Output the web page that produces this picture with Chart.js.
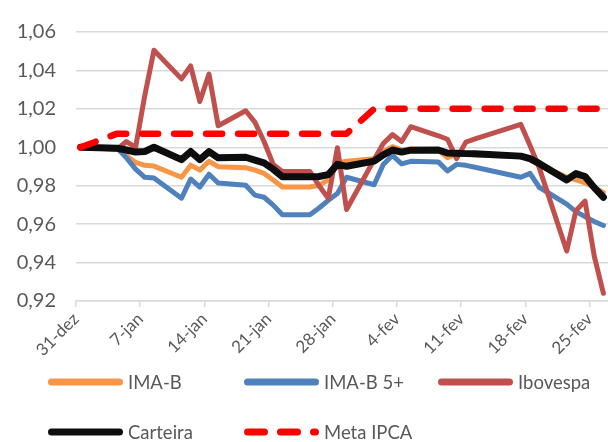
<!DOCTYPE html>
<html>
<head>
<meta charset="utf-8">
<script src="https://cdn.jsdelivr.net/npm/chart.js@4.4.1/dist/chart.umd.min.js"></script>
<style>
body{margin:0;background:#fff;font-family:Lato,"Open Sans",sans-serif;}
#wrap{position:relative;width:608px;height:442px;overflow:hidden;}
#legend{position:absolute;left:0;top:0;width:608px;height:442px;pointer-events:none;}
.item{position:absolute;height:20px;display:flex;align-items:center;font-size:18.5px;color:#595959;white-space:nowrap;}
.item svg{margin-right:5px;}
</style>
</head>
<body>
<div id="wrap">
  <canvas id="chart" width="608" height="442"></canvas>
  <div id="legend"></div>
</div>
<script>
/* DATA (days after 31-dez) */
const days=[0,4,5,6,7,8,11,12,13,14,15,18,19,20,21,22,25,26,27,28,29,32,33,34,35,36,39,40,41,42,43,48,49,50,53,54,55,56,57];

const imaB=[1.000,0.9995,0.9956,0.9921,0.9906,0.9902,0.9844,0.9907,0.9881,0.9927,0.9899,0.9894,0.9881,0.9864,0.9830,0.9793,0.9793,0.9802,0.9830,0.9918,0.9927,0.9941,0.9980,1.0003,0.9986,0.9991,0.9986,0.9946,0.9966,0.9966,0.9960,0.9951,0.9936,0.9906,0.9845,0.9830,0.9815,0.9790,0.9765];

const imaB5=[1.000,0.9995,0.9945,0.9886,0.9844,0.9840,0.9735,0.9835,0.9793,0.9860,0.9814,0.9802,0.9751,0.9740,0.9699,0.9649,0.9649,0.9684,0.9724,0.9760,0.9844,0.9805,0.9910,0.9958,0.9914,0.9927,0.9924,0.9877,0.9911,0.9906,0.9896,0.9844,0.9864,0.9792,0.9704,0.9665,0.9639,0.9614,0.9593];

const ibovespa=[1.000,0.999,1.003,1.000,1.027,1.0505,1.0356,1.0423,1.0238,1.0381,1.0112,1.019,1.0131,1.003,0.9911,0.9874,0.9874,0.9800,0.9734,0.9998,0.9676,0.9935,1.002,1.0066,1.003,1.0107,1.006,1.0042,0.9941,1.0027,1.0044,1.0119,1.0009,0.9894,0.946,0.967,0.972,0.9434,0.924];

const carteira=[1.000,0.9995,0.9986,0.9975,0.9978,1.000,0.9936,0.9978,0.9936,0.9978,0.9945,0.9948,0.9933,0.9919,0.9886,0.9847,0.9847,0.9848,0.9858,0.9911,0.9901,0.9928,0.9961,0.9986,0.9975,0.9985,0.9986,0.9970,0.9969,0.9967,0.9966,0.9954,0.9941,0.9916,0.9830,0.9863,0.9848,0.9790,0.9740];

const metaIpca=[1.000,1.0071,1.0071,1.0071,1.0071,1.0071,1.0071,1.0071,1.0071,1.0071,1.0071,1.0071,1.0071,1.0071,1.0071,1.0071,1.0071,1.0071,1.0071,1.0071,1.0071,1.020,1.020,1.020,1.020,1.020,1.020,1.020,1.020,1.020,1.020,1.020,1.020,1.020,1.020,1.020,1.020,1.020,1.020];

const xTickLabels=["31-dez","7-jan","14-jan","21-jan","28-jan","4-fev","11-fev","18-fev","25-fev"];
const yTicks=[0.92,0.94,0.96,0.98,1.00,1.02,1.04,1.06];

const pts=vals=>days.map((d,i)=>({x:d,y:vals[i]}));

function line(label,vals,color,width,order,dash){
  return {
    label:label,
    data:pts(vals),
    borderColor:color,
    backgroundColor:color,
    borderWidth:width,
    borderDash:dash||[],
    borderCapStyle:"round",
    borderJoinStyle:"round",
    pointRadius:0,
    tension:0,
    order:order,
    dashed:!!dash
  };
}

const datasets=[
  line("IMA-B",imaB,"#F79646",5,5),
  line("IMA-B 5+",imaB5,"#4F81BD",5,4),
  line("Ibovespa",ibovespa,"#C0504D",5,3),
  line("Carteira",carteira,"#0D0D0D",7,2),
  line("Meta IPCA",metaIpca,"#FF0000",6.5,1,[16,16])
];

const textColor="#595959";
const gridColor="#D9D9D9";

const chart=new Chart(document.getElementById("chart"),{
  type:"line",
  data:{datasets:datasets},
  options:{
    responsive:false,
    animation:false,
    layout:{padding:{top:23,right:0,left:0,bottom:0}},
    plugins:{legend:{display:false},tooltip:{enabled:false}},
    scales:{
      x:{
        type:"linear",
        min:-0.5,
        max:57.5,
        afterBuildTicks:s=>{s.ticks=xTickLabels.map((l,i)=>({value:i*7-0.5}));},
        afterFit:s=>{s.height=141;},
        ticks:{
          autoSkip:false,
          minRotation:45,
          maxRotation:45,
          color:textColor,
          font:{family:"Lato",size:17},
          padding:2,
          callback:(v,i)=>xTickLabels[i]
        },
        grid:{drawOnChartArea:false,drawTicks:true,tickLength:6,color:gridColor,lineWidth:1.5},
        border:{color:gridColor,width:1.5}
      },
      y:{
        min:0.92,
        max:1.06,
        afterBuildTicks:s=>{s.ticks=yTicks.map(v=>({value:v}));},
        afterFit:s=>{s.width=76;},
        ticks:{
          color:textColor,
          font:{family:"Lato",size:20},
          padding:20,
          callback:v=>v.toFixed(2).replace(".",",")
        },
        grid:{color:gridColor,lineWidth:1.5,drawTicks:false},
        border:{display:false}
      }
    }
  }
});

/* LEGEND (two rows, three columns like the original) */
const legendSlots=[[48,372],[244,372],[438,372],[48,422],[244,422]];
const legend=document.getElementById("legend");
chart.data.datasets.forEach((ds,i)=>{
  const [left,top]=legendSlots[i];
  const item=document.createElement("div");
  item.className="item";
  item.style.left=left+"px";
  item.style.top=top+"px";
  const dash=ds.dashed?' stroke-dasharray="17 16"':'';
  item.innerHTML=`<svg width="75" height="12"><line x1="3.5" y1="6" x2="71.5" y2="6" stroke="${ds.borderColor}" stroke-width="7" stroke-linecap="round"${dash}/></svg><span>${ds.label}</span>`;
  legend.appendChild(item);
});
</script>
</body>
</html>
